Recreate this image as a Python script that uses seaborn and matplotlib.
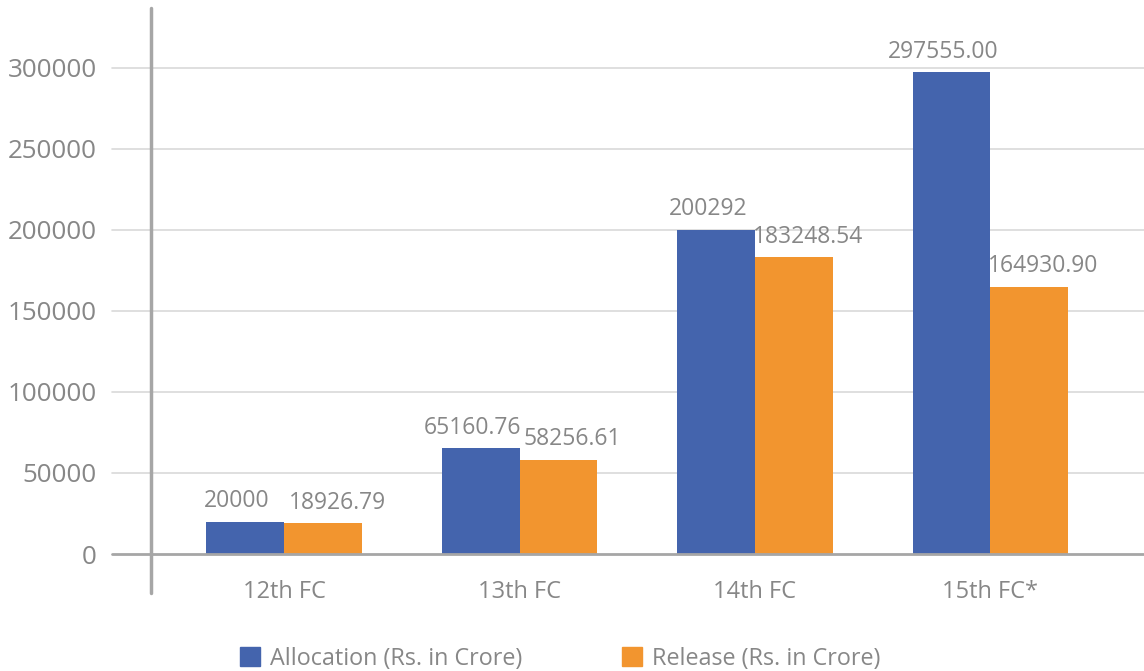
import matplotlib
matplotlib.use("Agg")
import matplotlib.pyplot as plt
import seaborn as sns
import pandas as pd
from matplotlib.lines import Line2D

# Finance Commission allocations vs releases (Rs. in Crore)
categories = ["12th FC", "13th FC", "14th FC", "15th FC*"]
allocation = [20000, 65160.76, 200292, 297555.00]
release = [18926.79, 58256.61, 183248.54, 164930.90]
allocation_labels = ["20000", "65160.76", "200292", "297555.00"]
release_labels = ["18926.79", "58256.61", "183248.54", "164930.90"]
series_names = ["Allocation (Rs. in Crore)", "Release (Rs. in Crore)"]
y_ticks = [0, 50000, 100000, 150000, 200000, 250000, 300000]

BLUE = "#4464AD"
ORANGE = "#F2952F"
TEXT = "#878787"
GRID = "#D9D9D9"
AXIS = "#A6A6A6"

sns.set_theme(style="white")
plt.rcParams["font.family"] = ["Open Sans", "DejaVu Sans"]

df = pd.DataFrame({
    "category": categories * 2,
    "value": allocation + release,
    "series": [series_names[0]] * len(categories) + [series_names[1]] * len(categories),
})

fig = plt.figure(figsize=(11.44, 6.71), dpi=100)
W, H = 1144, 671
ax_left, ax_right, ax_top, ax_bottom = 151, 1144, 8, 554
ax = fig.add_axes([ax_left / W, 1 - ax_bottom / H,
                   (ax_right - ax_left) / W, (ax_bottom - ax_top) / H])

sns.barplot(data=df, x="category", y="value", hue="series",
            palette=[BLUE, ORANGE], width=0.662, gap=0, saturation=1,
            dodge=True, ax=ax, legend=False, zorder=3, linewidth=0)

ax.set_xlim(-0.565, 3.652)
ax.set_ylim(0, 337037)
ax.set_xlabel("")
ax.set_ylabel("")
for s in ax.spines.values():
    s.set_visible(False)

# horizontal gridlines reaching past the vertical axis line
ext = -(ax_left - 112) / (ax_right - ax_left)
for yv in y_ticks[1:]:
    ax.axhline(yv, xmin=ext, xmax=1, color=GRID, lw=1.2, clip_on=False, zorder=1)
ax.axhline(0, xmin=ext, xmax=1, color=AXIS, lw=2, clip_on=False, zorder=4)

# vertical axis line extending below the baseline
ax.add_line(Line2D([0, 0], [-(593 - ax_bottom) / (ax_bottom - ax_top), 1],
                   transform=ax.transAxes, color=AXIS, lw=2.5,
                   clip_on=False, zorder=4))

ax.set_yticks(y_ticks)
ax.set_yticklabels([str(v) for v in y_ticks])
ax.tick_params(axis="y", length=0, pad=39, labelsize=18.7, labelcolor=TEXT)
ax.tick_params(axis="x", length=0, pad=19, labelsize=17, labelcolor=TEXT)

# value labels: allocation nudged left, release nudged right to keep them apart
for cont, labels, dx in zip(ax.containers, [allocation_labels, release_labels], [-8, 14]):
    texts = ax.bar_label(cont, labels=labels, padding=6, fontsize=16.5, color=TEXT)
    for t in texts:
        x, y = t.xyann
        t.xyann = (x + dx * 0.72, y)

handles = [plt.Rectangle((0, 0), 1, 1, color=c) for c in (BLUE, ORANGE)]
fig.legend(handles, series_names, loc="center", bbox_to_anchor=(560 / W, 0.018),
           ncol=2, frameon=False, fontsize=16.8, labelcolor=TEXT,
           handlelength=0.86, handleheight=0.86, handletextpad=0.43,
           columnspacing=4.25)

fig.savefig("out.png", dpi=100)
